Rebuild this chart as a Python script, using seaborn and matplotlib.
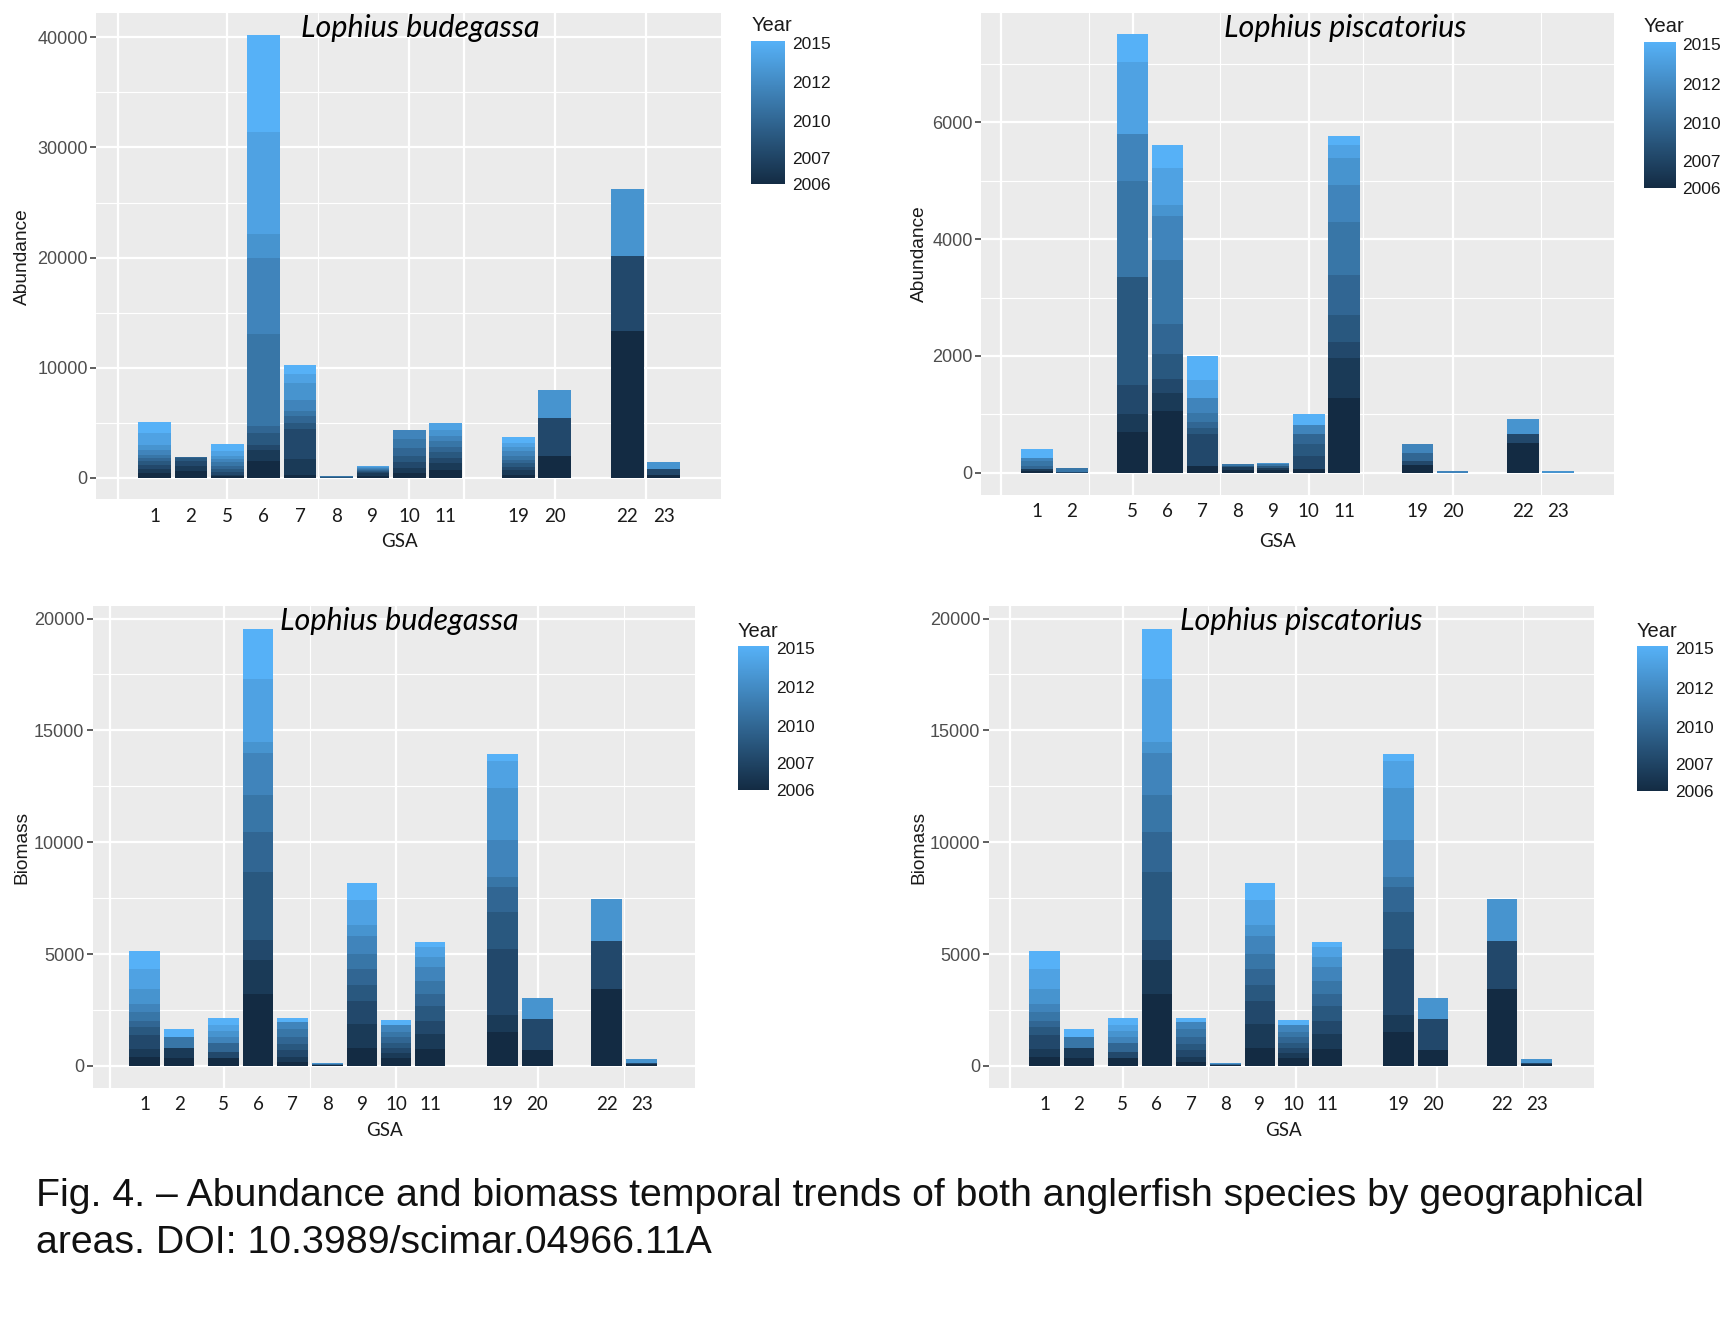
import numpy as np
import pandas as pd
import matplotlib
matplotlib.use("Agg")
import matplotlib.pyplot as plt
import seaborn as sns
from matplotlib.colors import LinearSegmentedColormap, Normalize
from matplotlib.cm import ScalarMappable
from matplotlib.ticker import MultipleLocator

# ---------------- data ----------------
years = [2006, 2007, 2008, 2009, 2010, 2011, 2012, 2013, 2014, 2015]
gsa_labels = ["1", "2", "5", "6", "7", "8", "9", "10", "11", "19", "20", "22", "23"]

# rows = GSA (same order as gsa_labels), columns = years 2006..2015
abundance_budegassa = [
    [400, 400, 400, 300, 300, 300, 400, 500, 1100, 1000],
    [600, 500, 400, 300, 100, 0, 0, 0, 0, 0],
    [200, 100, 200, 300, 300, 300, 300, 300, 400, 700],
    [1500, 1070, 430, 1080, 670, 8300, 6950, 2100, 9300, 8800],
    [300, 1400, 2700, 600, 600, 500, 1000, 1500, 800, 800],
    [0, 0, 0, 80, 0, 70, 0, 0, 0, 0],
    [200, 200, 100, 100, 100, 100, 100, 100, 50, 50],
    [400, 500, 500, 600, 700, 800, 800, 0, 0, 0],
    [700, 600, 500, 500, 500, 500, 500, 500, 700, 0],
    [300, 400, 300, 300, 300, 400, 400, 400, 400, 500],
    [1960, 0, 3480, 0, 0, 0, 0, 2560, 0, 0],
    [13300, 0, 6800, 0, 0, 0, 0, 6100, 0, 0],
    [300, 0, 500, 0, 0, 0, 0, 600, 0, 0],
]

abundance_piscatorius = [
    [30, 30, 0, 0, 60, 80, 60, 0, 0, 150],
    [0, 0, 20, 0, 0, 66, 0, 0, 0, 0],
    [700, 300, 500, 1850, 0, 1650, 800, 0, 1240, 470],
    [1057, 303, 240, 429, 525, 1086, 760, 189, 628, 394],
    [110, 0, 550, 100, 100, 170, 250, 0, 310, 410],
    [50, 40, 0, 30, 0, 23, 0, 0, 0, 0],
    [40, 40, 0, 40, 0, 30, 0, 20, 0, 0],
    [70, 0, 220, 200, 170, 0, 150, 0, 0, 190],
    [1286, 685, 275, 457, 686, 897, 645, 458, 228, 154],
    [140, 0, 60, 0, 140, 0, 146, 0, 0, 0],
    [0, 0, 0, 0, 0, 0, 34, 0, 0, 0],
    [500, 0, 160, 0, 0, 0, 0, 254, 0, 0],
    [0, 0, 0, 0, 0, 0, 0, 28, 0, 0],
]

biomass_budegassa = [
    [400, 340, 636, 370, 251, 414, 370, 666, 887, 800],
    [340, 444, 0, 0, 0, 518, 0, 0, 0, 370],
    [340, 0, 296, 0, 370, 0, 296, 266, 252, 325],
    [3214, 1503, 923, 3021, 1815, 1637, 1860, 491, 2828, 2232],
    [190, 200, 300, 300, 300, 370, 300, 0, 0, 200],
    [60, 0, 0, 0, 40, 0, 0, 48, 0, 0],
    [784, 1110, 1012, 729, 714, 670, 773, 521, 1087, 773],
    [340, 222, 222, 252, 236, 252, 296, 0, 0, 251],
    [740, 680, 577, 666, 562, 592, 621, 414, 473, 193],
    [1503, 789, 2931, 1652, 1101, 491, 1637, 2307, 1220, 327],
    [710, 0, 1405, 0, 0, 0, 0, 918, 0, 0],
    [3420, 0, 2150, 0, 0, 0, 0, 1900, 0, 0],
    [80, 0, 70, 0, 0, 0, 0, 146, 0, 0],
]

biomass_piscatorius = [
    [400, 340, 636, 370, 251, 414, 370, 666, 887, 800],
    [340, 444, 0, 0, 0, 518, 0, 0, 0, 370],
    [340, 0, 296, 0, 370, 0, 296, 266, 252, 325],
    [3214, 1503, 923, 3021, 1815, 1637, 1860, 491, 2828, 2232],
    [190, 200, 300, 300, 300, 370, 300, 0, 0, 200],
    [60, 0, 0, 0, 40, 0, 0, 48, 0, 0],
    [784, 1110, 1012, 729, 714, 670, 773, 521, 1087, 773],
    [340, 222, 222, 252, 236, 252, 296, 0, 0, 251],
    [740, 680, 577, 666, 562, 592, 621, 414, 473, 193],
    [1503, 789, 2931, 1652, 1101, 491, 1637, 2307, 1220, 327],
    [710, 0, 1405, 0, 0, 0, 0, 918, 0, 0],
    [3420, 0, 2150, 0, 0, 0, 0, 1900, 0, 0],
    [80, 0, 70, 0, 0, 0, 0, 146, 0, 0],
]

colorbar_ticks = [2006, 2007.65, 2010, 2012.43, 2014.86]
colorbar_labels = ["2006", "2007", "2010", "2012", "2015"]

caption_line1 = "Fig. 4. \u2013 Abundance and biomass temporal trends of both anglerfish species by geographical"
caption_line2 = "areas. DOI: 10.3989/scimar.04966.11A"

# ---------------- layout (slot positions of the bars in each panel) ----------------
slots_top_left = [0, 1, 2, 3, 4, 5, 6, 7, 8, 10, 11, 13, 14]
slots_top_right = [0, 0.99, 2.71, 3.71, 4.70, 5.70, 6.70, 7.71, 8.71, 10.79, 11.79, 13.78, 14.78]
slots_bottom = [0, 1.0, 2.28, 3.27, 4.27, 5.27, 6.27, 7.25, 8.23, 10.31, 11.32, 13.32, 14.33]

sns.set_theme(style="darkgrid", rc={"axes.facecolor": "#EBEBEB", "figure.facecolor": "white"})
plt.rcParams["font.family"] = ["Liberation Sans", "DejaVu Sans"]

fig = plt.figure(figsize=(17.32, 13.41), dpi=100)
cmap = LinearSegmentedColormap.from_list("gg", ["#132B43", "#56B1F7"])
norm = Normalize(2006, 2015)

panels = [
    dict(values=abundance_budegassa, pos=slots_top_left,
         rect=[0.05548, 0.62768, 0.36097, 0.36244], xlim=(-1.61, 15.58), ylim=(-1950, 42190),
         ystep=10000, ylabel="Abundance", title="Lophius budegassa",
         title_xy=(0.518, 0.970), xlab_xy=(0.486, -0.086), ylab_x=-0.118,
         vmajor=[-1, 2, 7, 11, 8.5, 13.5], vminor=[4.5],
         cbar=[0.43367, 0.86244, 0.01977, 0.10708]),
    dict(values=abundance_piscatorius, pos=slots_top_right,
         rect=[0.56633, 0.63097, 0.36543, 0.35914], xlim=(-1.59, 16.36), ylim=(-380, 7870),
         ystep=2000, ylabel="Abundance", title="Lophius piscatorius",
         title_xy=(0.576, 0.970), xlab_xy=(0.469, -0.096), ylab_x=-0.097,
         vmajor=[-1.03, 2.71, 7.71, 11.79], vminor=[1.47, 5.2, 9.26, 14.3],
         cbar=[0.94898, 0.85997, 0.0185, 0.10873]),
    dict(values=biomass_budegassa, pos=slots_bottom,
         rect=[0.05357, 0.18863, 0.34758, 0.35914], xlim=(-1.49, 15.86), ylim=(-990, 20540),
         ystep=5000, ylabel="Biomass", title="Lophius budegassa",
         title_xy=(0.51, 0.970), xlab_xy=(0.484, -0.089), ylab_x=-0.117,
         vmajor=[-0.99, 2.28, 7.25, 11.34], vminor=[4.77, 13.83],
         cbar=[0.42602, 0.41104, 0.01786, 0.10708]),
    dict(values=biomass_piscatorius, pos=slots_bottom,
         rect=[0.57079, 0.18863, 0.34949, 0.35914], xlim=(-1.63, 16.0), ylim=(-990, 20540),
         ystep=5000, ylabel="Biomass", title="Lophius piscatorius",
         title_xy=(0.516, 0.970), xlab_xy=(0.487, -0.089), ylab_x=-0.115,
         vmajor=[-1.0, 2.28, 7.31, 11.42], vminor=[4.76, 13.92],
         cbar=[0.94515, 0.41021, 0.01786, 0.10791]),
]


def draw_panel(p):
    ax = fig.add_axes(p["rect"])
    rows = []
    for g, x, vals in zip(gsa_labels, p["pos"], p["values"]):
        cum = np.cumsum(vals)
        for yr, c in zip(years, cum):
            rows.append((g, x, yr, c))
    df = pd.DataFrame(rows, columns=["GSA", "pos", "Year", "cum"])
    # stacked bars: draw cumulative totals from the latest year down
    for yr in years[::-1]:
        sub = df[df["Year"] == yr]
        sns.barplot(data=sub, x="pos", y="cum", native_scale=True, width=0.9,
                    color=cmap(norm(yr)), saturation=1, errorbar=None,
                    linewidth=0, ax=ax)

    ax.set_xlim(*p["xlim"])
    ax.set_ylim(*p["ylim"])
    for s in ax.spines.values():
        s.set_visible(False)

    ax.grid(False)
    ax.set_axisbelow(True)
    ax.yaxis.set_major_locator(MultipleLocator(p["ystep"]))
    ax.yaxis.set_minor_locator(MultipleLocator(p["ystep"] / 2))
    ax.yaxis.grid(True, which="major", color="white", linewidth=1.6)
    ax.yaxis.grid(True, which="minor", color="white", linewidth=0.8)
    for v in p["vmajor"]:
        ax.axvline(v, color="white", linewidth=1.6, zorder=0.6)
    for v in p["vminor"]:
        ax.axvline(v, color="white", linewidth=0.8, zorder=0.6)

    ax.set_xticks(p["pos"])
    ax.set_xticklabels(gsa_labels)
    ax.tick_params(axis="x", which="both", length=0, pad=6)
    for lbl in ax.get_xticklabels():
        lbl.set_fontfamily(["Lato", "DejaVu Sans"])
        lbl.set_fontsize(13.5)
        lbl.set_color("#1a1a1a")
    ax.tick_params(axis="y", which="major", left=True, length=4, width=1.1,
                   color="#333333", labelsize=13, labelcolor="#4D4D4D", pad=2)
    ax.tick_params(axis="y", which="minor", left=False, length=0)

    ax.set_xlabel("GSA", fontsize=13.5, color="#1a1a1a", va="center",
                  fontfamily=["Lato", "DejaVu Sans"])
    ax.xaxis.set_label_coords(*p["xlab_xy"])
    ax.set_ylabel(p["ylabel"], fontsize=13.8, color="#1a1a1a", va="center")
    ax.yaxis.set_label_coords(p["ylab_x"], 0.5)

    ax.text(p["title_xy"][0], p["title_xy"][1], p["title"], transform=ax.transAxes,
            ha="center", va="center", fontsize=22, fontstyle="italic",
            fontfamily=["Lato", "DejaVu Sans"], color="black")

    cax = fig.add_axes(p["cbar"])
    cb = fig.colorbar(ScalarMappable(norm=norm, cmap=cmap), cax=cax, ticks=colorbar_ticks)
    cb.set_ticklabels(colorbar_labels)
    cb.outline.set_visible(False)
    cax.grid(False)
    cax.tick_params(direction="in", color="white", length=5, width=1,
                    left=True, right=True, labelsize=12.5, labelcolor="#1a1a1a", pad=5)
    cax.text(0, 1.105, "Year", transform=cax.transAxes, ha="left", va="center",
             fontsize=14.5, color="#1a1a1a")


for p in panels:
    draw_panel(p)

fig.text(0.021, 0.108, caption_line1, fontsize=28.3, ha="left", va="center", color="#111111")
fig.text(0.021, 0.0733, caption_line2, fontsize=28.3, ha="left", va="center", color="#111111")

fig.savefig("out.png", dpi=100)
